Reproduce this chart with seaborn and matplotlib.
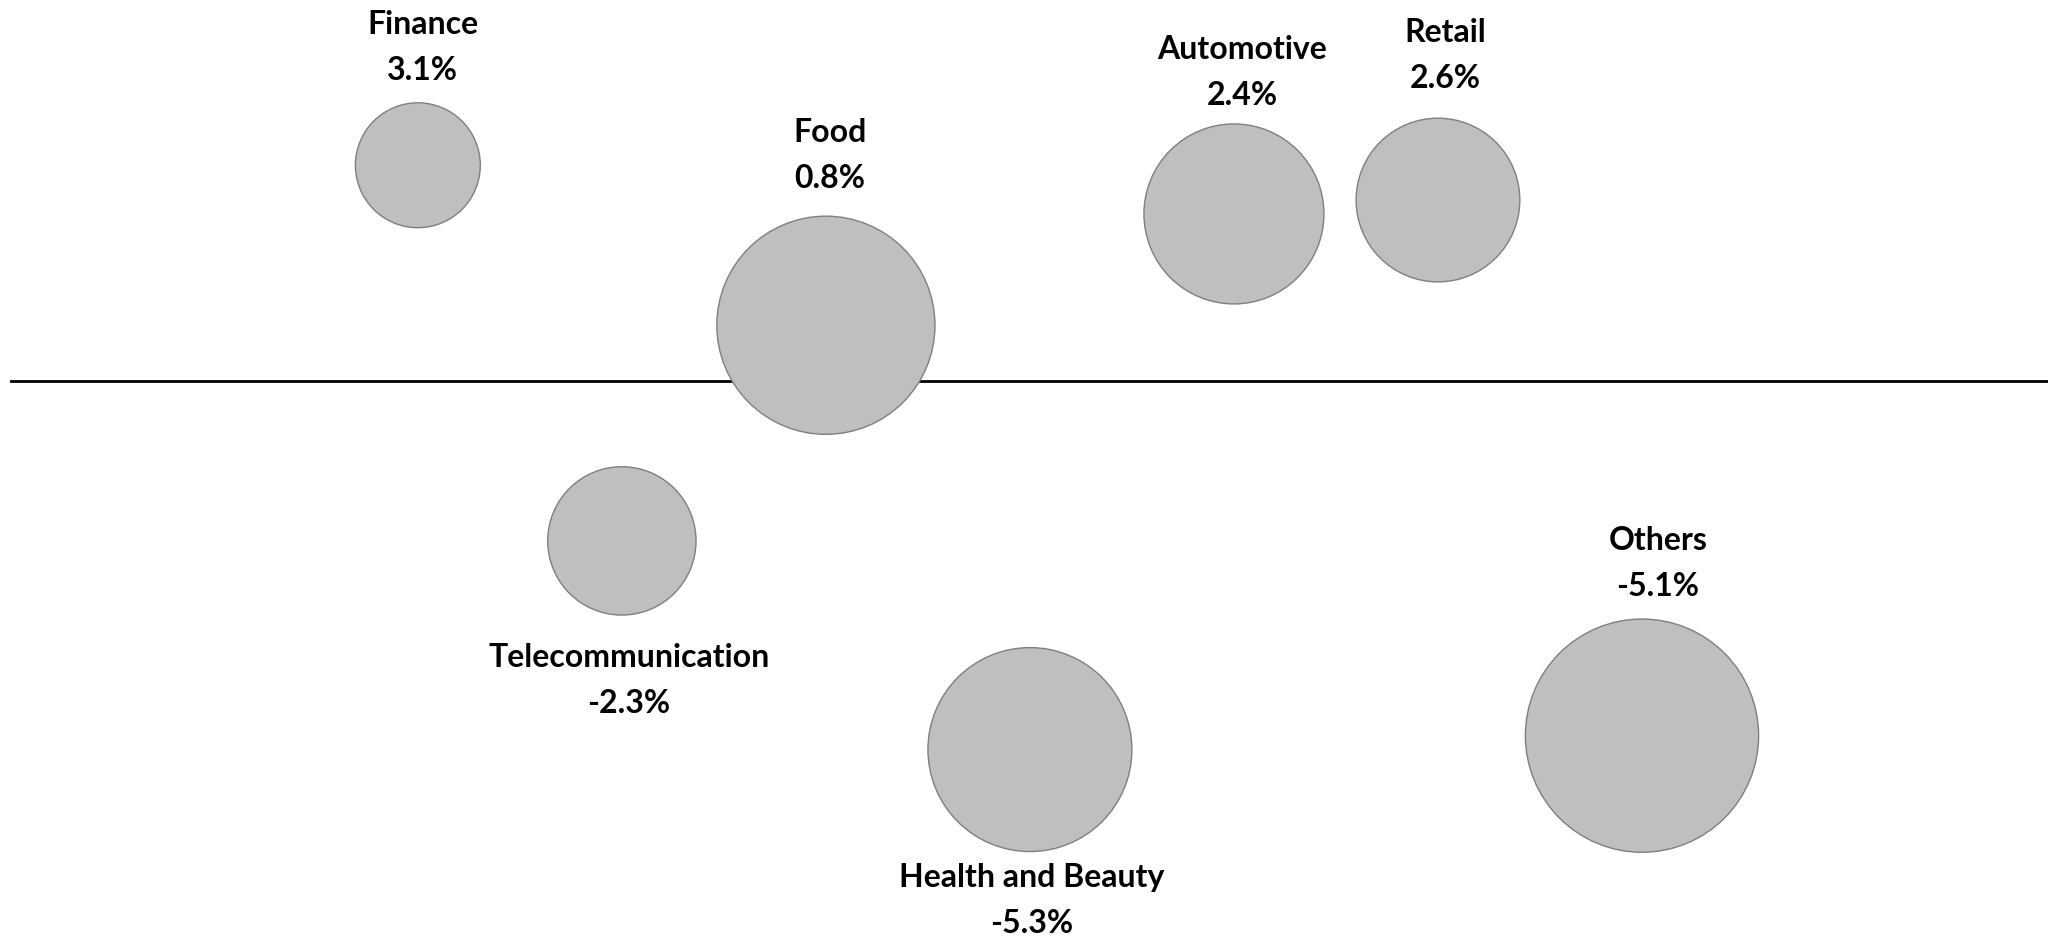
import numpy as np
import matplotlib
matplotlib.use("Agg")
import matplotlib.pyplot as plt
import seaborn as sns

# data
sectors = ["Finance", "Telecommunication", "Food", "Health and Beauty",
           "Automotive", "Retail", "Others"]
growth = [3.1, -2.3, 0.8, -5.3, 2.4, 2.6, -5.1]          # % change
volume = [3.9, 5.5, 11.9, 10.4, 8.1, 6.7, 13.6]          # bubble size (relative)

# label layout: side, horizontal nudge (px), gap to bubble edge (px)
label_side = ["above", "below", "above", "below", "above", "above", "above"]
label_dx = [5, 7, 4, 1.5, 8, 7.5, 16]
label_gap = [24, 28, 29, 11, 20, 31, 24]

DPI = 100
SCALE = 2073.6          # volume -> marker area (pt^2)
LINE = 46               # px between label lines
CAP = 23                # cap height px

sns.set_style("white")
plt.rcParams["font.family"] = ["Lato", "DejaVu Sans"]

fig = plt.figure(figsize=(20.48, 9.45), dpi=DPI)
left = 9.8 / 2048
ax = fig.add_axes([left, 0, 1 - left, 1])

xpos = np.arange(1, len(sectors) + 1)
sizes = np.array(volume) * SCALE

# zero line behind the bubbles
ax.axhline(0, color="black", lw=2.0, zorder=1)
sns.scatterplot(x=xpos, y=growth, s=sizes, color="#BFBFBF", edgecolor="#7F7F7F",
                linewidth=1.0, legend=False, ax=ax, zorder=3)

for x, y, name, s, side, dx, gap in zip(xpos, growth, sectors, sizes,
                                        label_side, label_dx, label_gap):
    r = np.sqrt(s) / 2 * DPI / 72
    val = f"{y:.1f}%"
    if side == "above":
        yv = r + gap
        yn = yv + LINE
    else:
        yn = -(r + gap + CAP)
        yv = yn - LINE
    for txt, dy in [(name, yn), (val, yv)]:
        ax.annotate(txt, xy=(x, y), xytext=(dx, dy), textcoords="offset pixels",
                    ha="center", va="baseline", fontsize=23, fontweight="bold",
                    color="black", zorder=4)

ax.set_xlim(-1, 8.99)
ax.set_ylim(-8.095, 5.49)
ax.axis("off")

fig.savefig("out.png", dpi=DPI)
